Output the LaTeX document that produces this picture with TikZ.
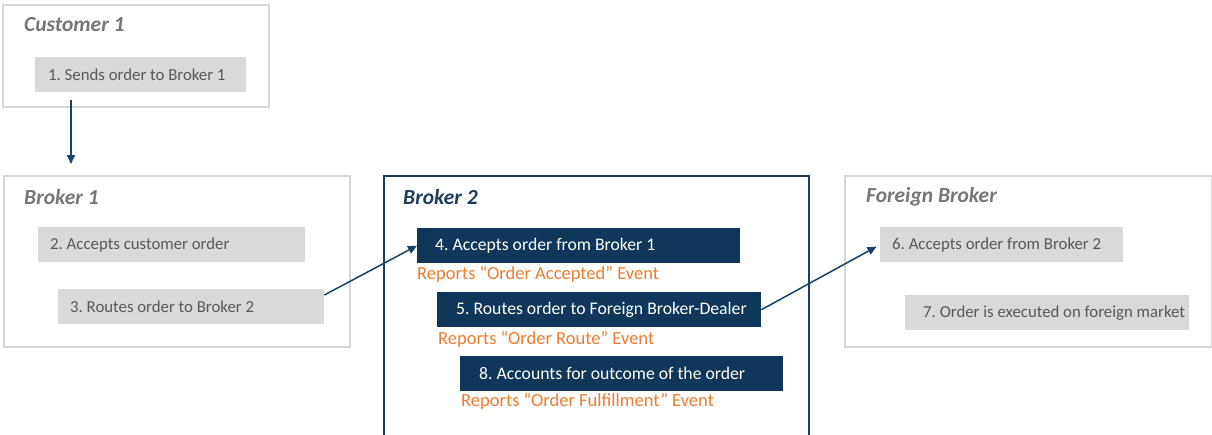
\documentclass[tikz,border=0pt]{standalone}
\usepackage{fontspec}
\setmainfont{Carlito}
\frenchspacing
\usetikzlibrary{arrows.meta,calc}
\definecolor{gfill}{HTML}{D9D9D9}
\definecolor{gline}{HTML}{D6D6D6}
\definecolor{gtext}{HTML}{595959}
\definecolor{gtitle}{HTML}{767676}
\definecolor{navy}{RGB}{14,55,90}
\definecolor{navyline}{RGB}{31,60,92}
\definecolor{arrc}{RGB}{22,65,105}
\definecolor{orng}{RGB}{237,125,49}
\tikzset{
  panel/.style={draw=gline,line width=1.8pt,fill=white,anchor=north west,inner sep=0pt},
  ptitle/.style={anchor=west,inner sep=0pt,font=\fontsize{21.5}{24}\selectfont\bfseries\itshape,text=gtitle},
  gstep/.style={fill=gfill,anchor=north west,minimum height=35pt,inner sep=0pt,
     font=\fontsize{16.8}{19}\selectfont,text=gtext},
  nstep/.style={fill=navy,anchor=north west,minimum height=35pt,inner sep=0pt,
     font=\fontsize{17.7}{20}\selectfont,text=white},
  report/.style={anchor=west,inner sep=0pt,font=\fontsize{18.5}{21}\selectfont,text=orng},
  arr/.style={draw=arrc,line width=1.5pt,-{Triangle[length=9pt,width=8pt]}}
}
\newcommand{\stxt}[3]{\makebox[#1pt][l]{\hspace*{#2pt}#3}}
\begin{document}
\begin{tikzpicture}[x=1pt,y=-1pt]
\useasboundingbox (0,0) rectangle (1212,434);
\clip (0,0) rectangle (1212,434);
% panels
\node[panel,minimum width=266pt,minimum height=102pt] (cust) at (2,4) {};
\node[panel,minimum width=346pt,minimum height=171pt] (bro1) at (3,175) {};
\node[panel,draw=navyline,minimum width=425pt,minimum height=270pt] (bro2) at (383,175) {};
\node[panel,minimum width=367pt,minimum height=171pt] (forb) at (844,175) {};
% titles
\node[ptitle] (tcust) at (24,25) {Customer 1};
\node[ptitle] (tbro1) at (24,197) {Broker 1};
\node[ptitle,text=navyline] (tbro2) at (403,197) {Broker 2};
\node[ptitle] (tforb) at (866,197) {Foreign Broker};
% steps
\node[gstep] (s1) at (35,57) {\stxt{211}{13}{1. Sends order to Broker 1}};
\node[gstep] (s2) at (38,227) {\stxt{267}{12}{2. Accepts customer order}};
\node[gstep] (s3) at (58,289) {\stxt{266}{12}{3. Routes order to Broker 2}};
\node[nstep] (s4) at (417,228) {\stxt{323}{18}{4. Accepts order from Broker 1}};
\node[nstep] (s5) at (437,292) {\stxt{324}{19}{5. Routes order to Foreign Broker-Dealer}};
\node[nstep] (s8) at (460,356) {\stxt{323}{19}{8. Accounts for outcome of the order}};
\node[gstep] (s6) at (880,227) {\stxt{243}{12}{6. Accepts order from Broker 2}};
\node[gstep] (s7) at (905,295) {\stxt{284}{18}{7. Order is executed on foreign market}};
% reports
\node[report] (r4) at (417,274) {Reports “Order Accepted” Event};
\node[report] (r5) at (438,339) {Reports “Order Route” Event};
\node[report] (r8) at (461,401) {Reports “Order Fulfillment” Event};
% connectors
\draw[arr] ([xshift=36pt,yshift=-8pt]s1.south west) -- ([xshift=68pt,yshift=11pt]bro1.north west);
\draw[arr] ([yshift=-6pt]s3.north east) -- (s4.west);
\draw[arr,shorten >=4pt] (s5.east) -- (s6.west);
\end{tikzpicture}
\end{document}
